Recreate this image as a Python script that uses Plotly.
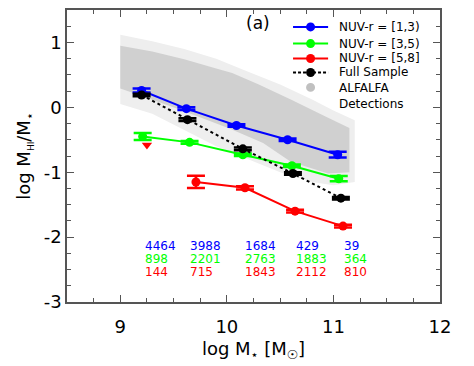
import plotly.graph_objects as go

# median log(MHI/M*) in bins of stellar mass, per NUV-r colour bin
blue_x = [9.20, 9.62, 10.09, 10.57, 11.04]
blue_y = [0.26, -0.02, -0.28, -0.50, -0.73]
blue_err = [0.03, 0.02, 0.02, 0.02, 0.045]

green_x = [9.21, 9.65, 10.15, 10.61, 11.05]
green_y = [-0.45, -0.54, -0.73, -0.90, -1.10]
green_err = [0.055, 0.02, 0.02, 0.02, 0.04]

red_x = [9.71, 10.17, 10.64, 11.09]
red_y = [-1.15, -1.24, -1.60, -1.83]
red_err = [0.095, 0.025, 0.02, 0.02]
red_limit_x = [9.25]
red_limit_y = [-0.58]

full_x = [9.20, 9.63, 10.15, 10.62, 11.07]
full_y = [0.19, -0.19, -0.64, -1.02, -1.40]
full_err = [0.02, 0.02, 0.02, 0.02, 0.02]

# number of galaxies per bin
count_x = [9.21, 9.64, 10.15, 10.63, 11.08]
blue_n = [4464, 3988, 1684, 429, 39]
green_n = [898, 2201, 2763, 1883, 364]
red_n = [144, 715, 1843, 2112, 810]

# outline of the ALFALFA detection cloud (sparse halo and dense core)
halo_x = [9.0, 9.3, 9.6, 9.9, 10.2, 10.5, 10.8, 11.0, 11.2,
          11.2, 11.0, 10.8, 10.5, 10.2, 9.9, 9.6, 9.3, 9.0]
halo_y = [1.12, 1.02, 0.9, 0.75, 0.55, 0.35, 0.12, -0.05, -0.2,
          -1.15, -1.2, -1.15, -1.0, -0.8, -0.6, -0.35, -0.1, 0.05]
core_x = [9.0, 9.3, 9.6, 9.9, 10.05, 10.3, 10.6, 10.95, 11.15,
          11.15, 10.95, 10.6, 10.34, 10.03, 9.6, 9.23, 9.0]
core_y = [0.95, 0.86, 0.74, 0.60, 0.53, 0.35, 0.12, -0.16, -0.32,
          -1.0, -1.02, -0.84, -0.55, -0.33, -0.06, 0.16, 0.29]

y_ticks = [-3, -2, -1, 0, 1]
y_ticklabels = ['-3', '-2', '-1', '0', '1']

BLUE, GREEN, RED = '#0000ff', '#00ff00', '#ff0000'

fig = go.Figure()

fig.add_trace(go.Scatter(x=halo_x, y=halo_y, fill='toself', fillcolor='#eeeeee',
                         mode='none', showlegend=False, hoverinfo='skip'))
fig.add_trace(go.Scatter(x=core_x, y=core_y, fill='toself', fillcolor='#d0d0d0',
                         mode='none', showlegend=False, hoverinfo='skip'))


def series(x, y, err, color, dash='solid'):
    return go.Scatter(
        x=x, y=y, mode='lines+markers', showlegend=False,
        line=dict(color=color, width=2, dash=dash),
        marker=dict(color=color, size=9),
        error_y=dict(type='data', array=err, color=color, thickness=2.5, width=9),
    )


fig.add_trace(series(blue_x, blue_y, blue_err, BLUE))
fig.add_trace(series(green_x, green_y, green_err, GREEN))
fig.add_trace(series(red_x, red_y, red_err, RED))
fig.add_trace(series(full_x, full_y, full_err, 'black', dash='3px,3px'))

fig.add_trace(go.Scatter(x=red_limit_x, y=red_limit_y, mode='markers', showlegend=False,
                         marker=dict(color=RED, symbol='triangle-down', size=9)))

for row, (vals, col) in enumerate([(blue_n, BLUE), (green_n, GREEN), (red_n, RED)]):
    for xx, v in zip(count_x, vals):
        fig.add_annotation(x=xx, y=-2.13 - 0.2 * row, text=str(v), showarrow=False,
                           xanchor='left', yanchor='middle', font=dict(size=12, color=col))

fig.add_annotation(x=0.512, y=0.995, xref='paper', yref='paper', text='(a)', showarrow=False,
                   xanchor='center', yanchor='top', font=dict(size=17, color='black'))

# compact legend drawn in paper coordinates (plot area is 373 x 294 px)
leg_x0, leg_x1, leg_xm, leg_tx = 0.606, 0.700, 0.653, 0.724
rx, ry = 4.5 / 373, 4.5 / 294
legend_rows = [
    ('NUV-r = [1,3)', BLUE, 'solid', 0.942),
    ('NUV-r = [3,5)', GREEN, 'solid', 0.885),
    ('NUV-r = [5,8]', RED, 'solid', 0.834),
    ('Full Sample', 'black', '3px,2px', 0.786),
]
for label, col, dash, yy in legend_rows:
    fig.add_shape(type='line', xref='paper', yref='paper', x0=leg_x0, x1=leg_x1, y0=yy, y1=yy,
                  line=dict(color=col, width=2, dash=dash))
    fig.add_shape(type='circle', xref='paper', yref='paper', x0=leg_xm - rx, x1=leg_xm + rx,
                  y0=yy - ry, y1=yy + ry, fillcolor=col, line=dict(color=col, width=0))
    fig.add_annotation(x=leg_tx, y=yy, xref='paper', yref='paper', text=label, showarrow=False,
                       xanchor='left', yanchor='middle', font=dict(size=12, color='black'))
fig.add_shape(type='circle', xref='paper', yref='paper', x0=leg_xm - rx, x1=leg_xm + rx,
              y0=0.735 - ry, y1=0.735 + ry, fillcolor='#c0c0c0', line=dict(width=0))
fig.add_annotation(x=leg_tx, y=0.762, xref='paper', yref='paper', text='ALFALFA<br>Detections',
                   showarrow=False, xanchor='left', yanchor='top', align='left',
                   font=dict(size=12, color='black'))

axis_common = dict(
    ticks='inside', ticklen=7, tickwidth=1, tickcolor='#555',
    showline=True, linecolor='#555', linewidth=1.5, mirror='allticks',
    showgrid=False, zeroline=False, tickfont=dict(size=18, color='black'),
    minor=dict(ticks='inside', ticklen=4, dtick=0.25, tickcolor='#555', showgrid=False),
)

fig.update_xaxes(range=[8.5, 12], tickvals=[9, 10, 11, 12], ticklabelstandoff=8, **axis_common,
                 title=dict(text='log M<sub>⋆</sub> [M<sub>☉</sub>]',
                            font=dict(size=18, color='black'), standoff=6))
fig.update_yaxes(range=[-3, 1.5], tickvals=y_ticks, ticktext=y_ticklabels, **axis_common,
                 title=dict(text='log M<sub><span style="font-size:9px">HI</span></sub>/M<sub>⋆</sub>',
                            font=dict(size=18, color='black'), standoff=8))

# the page adds an 8px body margin, so the figure is drawn 8px smaller
fig.update_layout(
    width=466, height=358,
    margin=dict(l=59, r=34, t=0, b=64),
    paper_bgcolor='white', plot_bgcolor='white',
    font=dict(family='DejaVu Sans', color='black'),
    showlegend=False,
)

fig.write_html("out.html")
